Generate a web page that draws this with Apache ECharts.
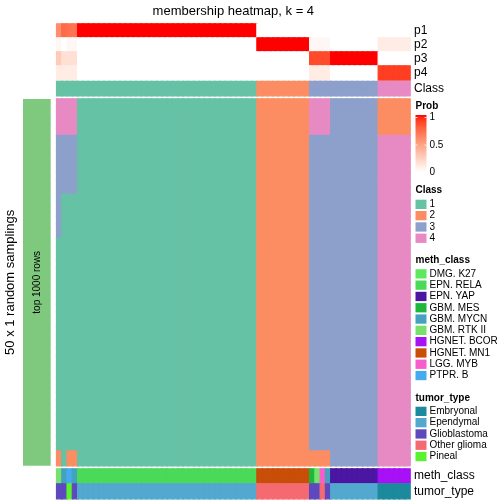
<!DOCTYPE html>
<html><head><meta charset="utf-8">
<script src="https://cdn.jsdelivr.net/npm/echarts@6/dist/echarts.min.js"></script>
<style>html,body{margin:0;padding:0;background:#fff}#c{width:504px;height:504px}</style>
</head><body><div id="c"></div>
<script>
const FONT = '"Liberation Sans", Arial, Helvetica, sans-serif';

// ---------------- data ----------------
const titleText = 'membership heatmap, k = 4';
const probRows = ['p1', 'p2', 'p3', 'p4'];
const classNames = ['1', '2', '3', '4'];
const classColors = ['#66C2A5', '#FC8D62', '#8DA0CB', '#E78AC3'];

// per-column (67 samples) class assignment
const classOf = [
  1,1,1,1,1,1,1,1,1,1,1,1,1,1,1,1,1,1,1,1,1,1,1,1,1,1,1,1,1,1,1,1,1,1,1,1,1,1,
  2,2,2,2,2,2,2,2,2,2,
  3,3,3,3,3,3,3,3,3,3,3,3,3,
  4,4,4,4,4,4
];
const p1 = [
  0.58,0.74,0.70,0.70,1,1,1,1,1,1,1,1,1,1,1,1,1,1,1,1,1,1,1,1,1,1,1,1,1,1,1,1,1,1,1,1,1,1,
  0,0,0,0,0,0,0,0,0,0,
  0,0,0,0,0,0,0,0,0,0,0,0,0,
  0,0,0,0,0,0
];
const p2 = [
  0.04,0,0.04,0.04,0,0,0,0,0,0,0,0,0,0,0,0,0,0,0,0,0,0,0,0,0,0,0,0,0,0,0,0,0,0,0,0,0,0,
  1,1,1,1,1,1,1,1,1,1,
  0.04,0.04,0.04,0.04,0,0,0,0,0,0,0,0,0,
  0.10,0.10,0.10,0.10,0.10,0.10
];
const p3 = [
  0.28,0.16,0.16,0.16,0,0,0,0,0,0,0,0,0,0,0,0,0,0,0,0,0,0,0,0,0,0,0,0,0,0,0,0,0,0,0,0,0,0,
  0,0,0,0,0,0,0,0,0,0,
  0.86,0.86,0.86,0.86,1,1,1,1,1,1,1,1,1,
  0,0,0,0,0,0
];
const p4 = [
  0.10,0.10,0.10,0.10,0,0,0,0,0,0,0,0,0,0,0,0,0,0,0,0,0,0,0,0,0,0,0,0,0,0,0,0,0,0,0,0,0,0,
  0,0,0,0,0,0,0,0,0,0,
  0.10,0.10,0.10,0.10,0,0,0,0,0,0,0,0,0,
  0.90,0.90,0.90,0.90,0.90,0.90
];

// membership of each of the 50 samplings: run-length patterns [class, nRows], top to bottom
const memberPatterns = [
  [[4,5],[3,14],[1,29],[2,2]],
  [[4,5],[3,8],[1,37]],
  [[4,5],[3,8],[1,35],[2,2]],
  [[1,50]],
  [[2,50]],
  [[4,5],[3,43],[2,2]],
  [[3,50]],
  [[2,5],[4,45]]
];
const columnPattern = [
  0,1,2,2,3,3,3,3,3,3,3,3,3,3,3,3,3,3,3,3,3,3,3,3,3,3,3,3,3,3,3,3,3,3,3,3,3,3,
  4,4,4,4,4,4,4,4,4,4,
  5,5,5,5,6,6,6,6,6,6,6,6,6,
  7,7,7,7,7,7
];
const nSamplings = 50;

const methNames = ['DMG. K27','EPN. RELA','EPN. YAP','GBM. MES','GBM. MYCN','GBM. RTK II','HGNET. BCOR','HGNET. MN1','LGG. MYB','PTPR. B'];
const methColors = ['#5DE85D','#4BDA58','#4A16A2','#1DB83B','#45A2BE','#76E26C','#A711F6','#C94E08','#F85ECB','#44ABF0'];
const methOf = [
  'GBM. RTK II','GBM. MYCN','PTPR. B','GBM. MYCN',
  'EPN. RELA','EPN. RELA','EPN. RELA','EPN. RELA','EPN. RELA','EPN. RELA','EPN. RELA','EPN. RELA','EPN. RELA','EPN. RELA',
  'EPN. RELA','EPN. RELA','EPN. RELA','EPN. RELA','EPN. RELA','EPN. RELA','EPN. RELA','EPN. RELA','EPN. RELA','EPN. RELA',
  'EPN. RELA','EPN. RELA','EPN. RELA','EPN. RELA','EPN. RELA','EPN. RELA','EPN. RELA','EPN. RELA','EPN. RELA','EPN. RELA',
  'EPN. RELA','EPN. RELA','EPN. RELA','EPN. RELA',
  'HGNET. MN1','HGNET. MN1','HGNET. MN1','HGNET. MN1','HGNET. MN1','HGNET. MN1','HGNET. MN1','HGNET. MN1','HGNET. MN1','HGNET. MN1',
  'GBM. MES','GBM. RTK II','LGG. MYB','GBM. MYCN',
  'EPN. YAP','EPN. YAP','EPN. YAP','EPN. YAP','EPN. YAP','EPN. YAP','EPN. YAP','EPN. YAP','EPN. YAP',
  'HGNET. BCOR','HGNET. BCOR','HGNET. BCOR','HGNET. BCOR','HGNET. BCOR','HGNET. BCOR'
];

const tumorNames = ['Embryonal','Ependymal','Glioblastoma','Other glioma','Pineal'];
const tumorColors = ['#1C8A9C','#52A8CE','#5E48BE','#F56A70','#5AF22F'];
const tumorOf = [
  'Glioblastoma','Glioblastoma','Pineal','Glioblastoma',
  'Ependymal','Ependymal','Ependymal','Ependymal','Ependymal','Ependymal','Ependymal','Ependymal','Ependymal','Ependymal',
  'Ependymal','Ependymal','Ependymal','Ependymal','Ependymal','Ependymal','Ependymal','Ependymal','Ependymal','Ependymal',
  'Ependymal','Ependymal','Ependymal','Ependymal','Ependymal','Ependymal','Ependymal','Ependymal','Ependymal','Ependymal',
  'Ependymal','Ependymal','Ependymal','Ependymal',
  'Other glioma','Other glioma','Other glioma','Other glioma','Other glioma','Other glioma','Other glioma','Other glioma','Other glioma','Other glioma',
  'Glioblastoma','Glioblastoma','Other glioma','Glioblastoma',
  'Ependymal','Ependymal','Ependymal','Ependymal','Ependymal','Ependymal','Ependymal','Ependymal','Ependymal',
  'Embryonal','Embryonal','Embryonal','Embryonal','Embryonal','Embryonal'
];
const probTicks = ['1', '0.5', '0'];

// ---------------- helpers ----------------
// white -> red interpolation in CIE LAB (like circlize::colorRamp2)
function ramp(t) {
  const L = 100 + (53.2408 - 100) * t, A = 80.0925 * t, B = 67.2032 * t;
  const fy = (L + 16) / 116, fx = fy + A / 500, fz = fy - B / 200;
  const inv = f => f > 6 / 29 ? f * f * f : 3 * (6 / 29) * (6 / 29) * (f - 4 / 29);
  const X = 0.95047 * inv(fx), Y = inv(fy), Z = 1.08883 * inv(fz);
  const lin = [3.2406 * X - 1.5372 * Y - 0.4986 * Z, -0.9689 * X + 1.8758 * Y + 0.0415 * Z, 0.0557 * X - 0.2040 * Y + 1.0570 * Z];
  const c = lin.map(v => {
    v = v <= 0.0031308 ? 12.92 * v : 1.055 * Math.pow(Math.max(v, 0), 1 / 2.4) - 0.055;
    return Math.round(Math.min(1, Math.max(0, v)) * 255);
  });
  return 'rgb(' + c.join(',') + ')';
}
const rampStops = [];
for (let i = 0; i <= 20; i++) rampStops.push(ramp(i / 20));

const colIds = classOf.map((_, i) => String(i + 1));
const rowIds = [];
for (let r = 0; r < nSamplings; r++) rowIds.push(String(r + 1));

// ---------------- layout ----------------
const L = 56.7, W = 353.3;
const grids = [
  { left: L, width: W, top: 24, height: 56 },     // probs
  { left: L, width: W, top: 81.6, height: 14.1 }, // class
  { left: L, width: W, top: 99, height: 366.7 },  // membership
  { left: L, width: W, top: 469, height: 14 },    // meth_class
  { left: L, width: W, top: 484, height: 14.6 }   // tumor_type
];
const yCats = [probRows, ['Class'], rowIds, ['meth_class'], ['tumor_type']];

const xAxes = grids.map((g, i) => ({ gridIndex: i, type: 'category', data: colIds, show: false }));
const yAxes = grids.map((g, i) => ({
  gridIndex: i, type: 'category', data: yCats[i], inverse: true, position: 'right',
  axisLine: { show: false }, axisTick: { show: false }, splitLine: { show: false },
  axisLabel: { show: i !== 2, interval: 0, fontSize: 12, color: '#000', margin: 4, fontFamily: FONT }
}));

// cell item: fill + same-colour hairline border to hide antialiasing seams
const BW = 1.1;
const cell = (value, color) => ({ value: value, itemStyle: { color: color, borderColor: color, borderWidth: BW } });

const probData = [];
[p1, p2, p3, p4].forEach((arr, r) => arr.forEach((v, c) =>
  probData.push({ value: [c, r, v], itemStyle: { borderColor: ramp(v), borderWidth: BW } })));
const classData = classOf.map((k, c) => cell([c, 0, k], classColors[k - 1]));
const memberData = [];
columnPattern.forEach((pi, c) => {
  let r = 0;
  memberPatterns[pi].forEach(([k, n]) => {
    for (let j = 0; j < n; j++, r++) memberData.push(cell([c, r, k], classColors[k - 1]));
  });
});
const methData = methOf.map((m, c) => { const k = methNames.indexOf(m); return cell([c, 0, k], methColors[k]); });
const tumorData = tumorOf.map((m, c) => { const k = tumorNames.indexOf(m); return cell([c, 0, k], tumorColors[k]); });

const hm = (i, data) => ({
  type: 'heatmap', xAxisIndex: i, yAxisIndex: i, data: data, progressive: 0,
  emphasis: { disabled: true }, silent: true
});

// ---------------- graphics (title, side labels, legends) ----------------
const g = [];
g.push({ type: 'text', x: L + W / 2, y: 11, style: { text: titleText, font: '13px ' + FONT, fill: '#000', align: 'center', verticalAlign: 'middle' } });
g.push({ type: 'rect', shape: { x: 23, y: 99, width: 27.7, height: 366.7 }, style: { fill: '#7FC97F' } });
g.push({ type: 'text', x: 37.5, y: 282.3, rotation: Math.PI / 2, style: { text: 'top 1000 rows', font: '10px ' + FONT, fill: '#000', align: 'center', verticalAlign: 'middle' } });
g.push({ type: 'text', x: 10, y: 282.3, rotation: Math.PI / 2, style: { text: '50 x 1 random samplings', font: '13px ' + FONT, fill: '#000', align: 'center', verticalAlign: 'middle' } });

const LX = 415.5, TX = 429.5;
g.push({ type: 'text', x: LX, y: 106, style: { text: 'Prob', font: 'bold 10px ' + FONT, fill: '#000', verticalAlign: 'middle' } });
g.push({ type: 'rect', shape: { x: LX, y: 115, width: 11, height: 57 },
  style: { fill: new echarts.graphic.LinearGradient(0, 0, 0, 1, rampStops.slice().reverse().map((c, i) => ({ offset: i / 20, color: c }))) } });
[117.5, 145, 172].forEach((y, i) => {
  g.push({ type: 'text', x: TX, y: y, style: { text: probTicks[i], font: '10px ' + FONT, fill: '#000', verticalAlign: 'middle' } });
  if (i < 2) {
    g.push({ type: 'line', shape: { x1: LX, y1: y, x2: LX + 2, y2: y }, style: { stroke: 'rgba(255,255,255,0.8)', lineWidth: 1 } });
    g.push({ type: 'line', shape: { x1: LX + 9, y1: y, x2: LX + 11, y2: y }, style: { stroke: 'rgba(255,255,255,0.8)', lineWidth: 1 } });
  }
});

function discreteLegend(title, titleY, firstY, names, colors) {
  g.push({ type: 'text', x: LX, y: titleY, style: { text: title, font: 'bold 10px ' + FONT, fill: '#000', verticalAlign: 'middle' } });
  names.forEach((n, i) => {
    const y = firstY + i * 11.3;
    g.push({ type: 'rect', shape: { x: LX, y: y, width: 11, height: 9.3 }, style: { fill: colors[i] } });
    g.push({ type: 'text', x: TX, y: y + 4.7, style: { text: n, font: '10px ' + FONT, fill: '#000', verticalAlign: 'middle' } });
  });
}
discreteLegend('Class', 190, 199.7, classNames, classColors);
discreteLegend('meth_class', 259.8, 269.2, methNames, methColors);
discreteLegend('tumor_type', 398, 406.7, tumorNames, tumorColors);

const chart = echarts.init(document.getElementById('c'), null, { renderer: 'canvas', width: 504, height: 504 });
chart.setOption({
  animation: false,
  backgroundColor: '#fff',
  textStyle: { fontFamily: FONT },
  grid: grids,
  xAxis: xAxes,
  yAxis: yAxes,
  visualMap: [{ show: false, type: 'continuous', seriesIndex: 0, min: 0, max: 1, dimension: 2, inRange: { color: rampStops } }],
  series: [hm(0, probData), hm(1, classData), hm(2, memberData), hm(3, methData), hm(4, tumorData)],
  graphic: g
});
</script>
</body></html>
